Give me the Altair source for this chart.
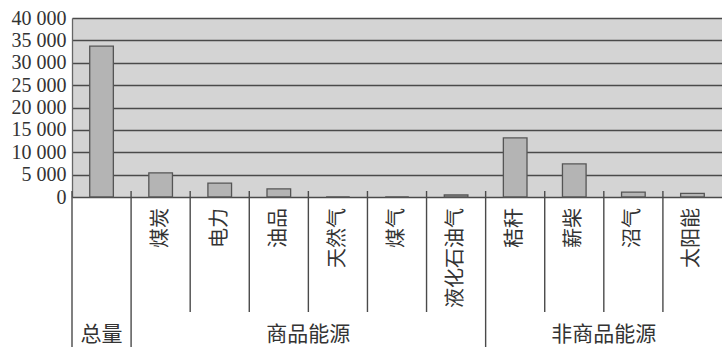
import altair as alt
import pandas as pd

categories = ["总量", "煤炭", "电力", "油品", "天然气", "煤气", "液化石油气", "秸秆", "薪柴", "沼气", "太阳能"]
values = [33700, 5400, 3100, 1800, 0, 0, 450, 13200, 7400, 1100, 800]
groups = ["总量", "商品能源", "非商品能源"]
group_start = [0, 1, 7]
group_end = [1, 7, 11]
full_boundaries = [0, 1, 7]
short_boundaries = [2, 3, 4, 5, 6, 8, 9, 10]
y_ticks = [0, 5000, 10000, 15000, 20000, 25000, 30000, 35000, 40000]

n = len(categories)
df = pd.DataFrame({"cat": categories, "value": values, "i": list(range(n))})
df["x0"] = df["i"] + 0.3
df["x1"] = df["i"] + 0.7
df["xc"] = df["i"] + 0.5
df["base"] = 0
lab = df[df["i"] > 0]

gdf = pd.DataFrame({"g": groups, "s": group_start, "e": group_end})
gdf["xc"] = (gdf["s"] + gdf["e"]) / 2

fb = pd.DataFrame({"b": full_boundaries})
sb = pd.DataFrame({"b": short_boundaries})

xscale = alt.Scale(domain=[0, n], nice=False, zero=False)
yscale = alt.Scale(domain=[0, 40000], nice=False)

CJK = "Noto Sans CJK SC"
LINE = "#4a4a4a"

bars = alt.Chart(df).mark_rect(fill="#b4b4b4", stroke="#555555", strokeWidth=1.3).encode(
    x=alt.X("x0:Q", scale=xscale,
            axis=alt.Axis(title=None, labels=False, ticks=False, grid=False,
                          domain=True, domainColor=LINE, domainWidth=1.5)),
    x2="x1:Q",
    y=alt.Y("value:Q", scale=yscale,
            axis=alt.Axis(title=None, values=y_ticks, grid=True, gridColor=LINE,
                          gridWidth=1.6, ticks=False, domain=True, domainColor="#666666",
                          domainWidth=1.3, labelFont="Liberation Serif", labelFontSize=20,
                          labelColor="#333333", labelPadding=6,
                          labelExpr="replace(format(datum.value, ','), ',', ' ')")),
    y2="base:Q",
)

full_rules = alt.Chart(fb).mark_rule(color=LINE, strokeWidth=1.4).encode(
    x=alt.X("b:Q", scale=xscale, axis=None),
    y=alt.value(173),
    y2=alt.value(329),
)
short_rules = alt.Chart(sb).mark_rule(color=LINE, strokeWidth=1.4).encode(
    x=alt.X("b:Q", scale=xscale, axis=None),
    y=alt.value(173),
    y2=alt.value(294),
)

cat_text = alt.Chart(lab).mark_text(
    font=CJK, fontSize=20, angle=270, baseline="middle", align="right",
    color="#333333"
).encode(
    x=alt.X("xc:Q", scale=xscale, axis=None),
    y=alt.value(190),
    text="cat:N",
)

grp_text = alt.Chart(gdf).mark_text(
    font=CJK, fontSize=21, baseline="middle", align="center", color="#333333"
).encode(
    x=alt.X("xc:Q", scale=xscale, axis=None),
    y=alt.value(317),
    text="g:N",
)

chart = alt.layer(bars, full_rules, short_rules, cat_text, grp_text).properties(
    width=650, height=179,
    padding={"left": 72, "top": 18, "right": 0, "bottom": 150},
    autosize="none",
    background="white",
).configure_view(fill="#d4d4d4", strokeWidth=0)

chart.save("out.html", embed_options={"renderer": "svg", "actions": False})
